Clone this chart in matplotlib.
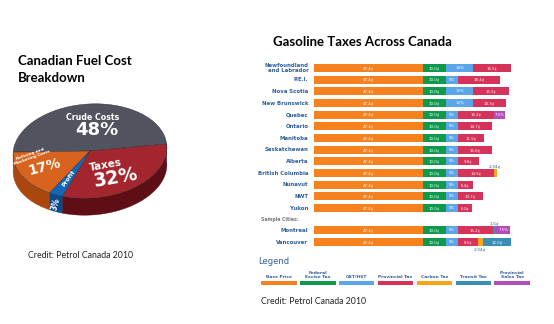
import numpy as np
import matplotlib
matplotlib.use("Agg")
import matplotlib.pyplot as plt
from matplotlib.patches import Polygon, Rectangle

# ---------------- data ----------------
pie_labels = ["Crude Costs", "Refining and\nMarketing Costs", "Profit", "Taxes"]
pie_values = [48, 17, 3, 32]

regions = ["Newfoundland\nand Labrador", "P.E.I.", "Nova Scotia", "New Brunswick",
           "Quebec", "Ontario", "Manitoba", "Saskatchewan", "Alberta",
           "British Columbia", "Nunavut", "NWT", "Yukon", "Montreal", "Vancouver"]
base_price = [47.4] * 15
federal_tax = [10.0] * 15
gst_hst = [11.7, 5.2, 11.7, 11.7, 5.2, 5.2, 5.2, 5.2, 5.2, 5.2, 5.2, 5.2, 5.2, 5.2, 5.2]
gst_labels = ["13%", "5%", "13%", "13%", "5%", "5%", "5%", "5%", "5%", "5%", "5%", "5%", "5%", "5%", "5%"]
provincial_tax = [16.5, 18.4, 15.5, 14.3, 15.7, 14.7, 11.5, 15.0, 9.0, 15.5, 6.4, 10.7, 6.2, 15.2, 8.5]
prov_labels = ["16.5¢", "18.4¢", "15.5¢", "14.3¢", "16.2¢", "14.7¢", "11.5¢", "15.0¢", "9.0¢",
               "14.5¢", "6.4¢", "10.7¢", "6.2¢", "15.2¢", "8.5¢"]
carbon_tax = [0, 0, 0, 0, 0, 0, 0, 0, 0, 1.4, 0, 0, 0, 0, 2.34]
transit_tax = [0, 0, 0, 0, 0, 0, 0, 0, 0, 0, 0, 0, 0, 1.5, 12.0]
prov_sales_tax = [0, 0, 0, 0, 4.8, 0, 0, 0, 0, 0, 0, 0, 0, 6.1, 0]
legend_labels = ["Base Price", "Federal\nExcise Tax", "GST/HST", "Provincial Tax",
                 "Carbon Tax", "Transit Tax", "Provincial\nSales Tax"]

seg_colors = ["#F5821F", "#0E9A4C", "#5BA6E8", "#D6335A", "#F9A51A", "#3A8FB7", "#B54DB8"]

W, H = 554, 324
fig = plt.figure(figsize=(W / 100, H / 100), dpi=100)
fig.patch.set_facecolor("white")

def fx(x):
    return x / W

def fy(y):
    return 1 - y / H

TITLE_FONT = "Lato"
LABEL_BLUE = "#2E5E9E"

# ---------------- left: 3D pie ----------------
pax = fig.add_axes([0, 0, 1, 1])
pax.set_xlim(0, W)
pax.set_ylim(H, 0)
pax.axis("off")

cx, cy, rx, ry, thick, rot = 90, 151, 77, 47, 17, np.deg2rad(4)
top_cols = ["#51545F", "#D8631E", "#1466B8", "#A3262F"]
side_cols = ["#34363F", "#A9470F", "#0D4A8C", "#5E0E14"]

def ept(t, dy=0.0, r=1.0):
    x = r * rx * np.cos(t)
    y = -r * ry * np.sin(t)
    xr = x * np.cos(rot) + y * np.sin(rot)
    yr = -x * np.sin(rot) + y * np.cos(rot)
    return cx + xr, cy + yr + dy

start = np.deg2rad(2)
fracs = np.array(pie_values, float) / sum(pie_values)
angles = [start]
for f in fracs:
    angles.append(angles[-1] + f * 2 * np.pi)

# sides
for i in range(len(pie_values)):
    a0, a1 = angles[i], angles[i + 1]
    ts = np.linspace(a0, a1, 200)
    ts = ts[(np.sin(ts) <= 0.05)]
    if len(ts) < 2:
        continue
    xs, ys = ept(ts)
    xb, yb = ept(ts[::-1], thick)
    poly = np.column_stack([np.concatenate([xs, xb]), np.concatenate([ys, yb])])
    pax.add_patch(Polygon(poly, closed=True, facecolor=side_cols[i], edgecolor=side_cols[i], lw=0.3))
# tops
for i in range(len(pie_values)):
    ts = np.linspace(angles[i], angles[i + 1], 200)
    xs, ys = ept(ts)
    poly = np.column_stack([np.concatenate([[cx], xs]), np.concatenate([[cy], ys])])
    pax.add_patch(Polygon(poly, closed=True, facecolor=top_cols[i], edgecolor="#2a2a2a", lw=0.3))

wfont = dict(color="white", fontweight="bold", family="DejaVu Sans", ha="center", va="center")
pax.text(93, 118, "Crude Costs", fontsize=5.7, **wfont)
pax.text(97, 130, f"{pie_values[0]}%", fontsize=13, **wfont)
pax.text(106, 165, "Taxes", fontsize=7.5, rotation=10, **wfont)
pax.text(116, 178, f"{pie_values[3]}%", fontsize=13.5, rotation=10, **wfont)
pax.text(31, 156, pie_labels[1], fontsize=3.0, rotation=20, linespacing=1.0, **wfont)
pax.text(45, 167, f"{pie_values[1]}%", fontsize=10, rotation=15, **wfont)
tp = (angles[2] + angles[3]) / 2
px_, py_ = ept(tp, 0, 0.62)
pax.text(px_, py_, "Profit", fontsize=4.3, rotation=55, **wfont)
sx_, sy_ = ept(tp, thick / 2 + 1)
pax.text(sx_, sy_, f"{pie_values[2]}%", fontsize=5.5, rotation=75, **wfont)

pax.text(18, 55, "Canadian Fuel Cost\nBreakdown", fontsize=9.5, fontweight="bold", family=TITLE_FONT,
         ha="left", va="top", color="black", linespacing=1.45)
pax.text(28, 256, "Credit: Petrol Canada 2010", fontsize=6.3, family=TITLE_FONT, ha="left", va="center",
         color="#222222")

# ---------------- right: stacked bars ----------------
pxc = 2.3          # pixels per cent
row_px = 11.68
y_top_px, y_bot_px = 55, 252
bar_left_px = 314
ax = fig.add_axes([fx(bar_left_px), fy(y_bot_px), (W - bar_left_px) / W, (y_bot_px - y_top_px) / H])
ax.set_xlim(0, (W - bar_left_px) / pxc)
ax.set_ylim(14.9 + (y_bot_px - 242) / row_px, -(68 - y_top_px) / row_px)
ax.axis("off")

ypos = list(np.arange(13, dtype=float)) + [13.9, 14.9]
series = [base_price, federal_tax, gst_hst, provincial_tax, carbon_tax, transit_tax, prov_sales_tax]
left = np.zeros(len(regions))
bh = 0.68
seg_text = dict(color="white", fontsize=2.8, ha="center", va="center", family="DejaVu Sans")
for k, vals in enumerate(series):
    vals = np.array(vals, float)
    ax.barh(ypos, vals, left=left, height=bh, color=seg_colors[k], edgecolor="none")
    for i, v in enumerate(vals):
        if v <= 0:
            continue
        xc = left[i] + v / 2
        if k in (0, 1):
            ax.text(xc, ypos[i], f"{v:.1f}¢", **seg_text)
        elif k == 2:
            ax.text(xc, ypos[i], gst_labels[i], **seg_text)
        elif k == 3:
            ax.text(xc, ypos[i], prov_labels[i], **seg_text)
        elif k == 6:
            ax.text(xc, ypos[i], "7.5%", **seg_text)
        elif k == 5 and v > 5:
            ax.text(xc, ypos[i], f"{v:.1f}¢", **seg_text)
    left += vals

small_txt = dict(color=LABEL_BLUE, fontsize=3.2, ha="center", family="DejaVu Sans")
i_bc = regions.index("British Columbia")
xbc = sum(s[i_bc] for s in series[:4]) + carbon_tax[i_bc] / 2
ax.text(xbc, ypos[i_bc] - 0.45, "2.34¢", va="bottom", **small_txt)
i_mt = regions.index("Montreal")
xmt = sum(s[i_mt] for s in series[:5]) + transit_tax[i_mt] / 2
ax.text(xmt, ypos[i_mt] - 0.45, f"{transit_tax[i_mt]:.1f}¢", va="bottom", **small_txt)
i_va = regions.index("Vancouver")
xva = sum(s[i_va] for s in series[:4]) + carbon_tax[i_va] / 2
ax.text(xva, ypos[i_va] + 0.45, f"{carbon_tax[i_va]:.2f}¢", va="top", **small_txt)

for i, name in enumerate(regions):
    ax.annotate(name, xy=(0, ypos[i]), xytext=(-4, 0), textcoords="offset points",
                ha="right", va="center", fontsize=3.9, fontweight="bold", color=LABEL_BLUE,
                family="DejaVu Sans", linespacing=1.1, annotation_clip=False)
ax.annotate("Sample Cities:", xy=(0, 12.95), xytext=(-38, 0), textcoords="offset points",
            ha="left", va="center", fontsize=3.3, fontweight="bold", color="#777777",
            family="DejaVu Sans", annotation_clip=False)

# ---------------- legend & titles ----------------
pax.text(273, 42, "Gasoline Taxes Across Canada", fontsize=9.5, fontweight="bold", family=TITLE_FONT,
         ha="left", va="center", color="black")
pax.text(258, 262, "Legend", fontsize=6, family="DejaVu Sans", ha="left", va="center", color=LABEL_BLUE)
leg_x0, leg_w, leg_gap = 261, 35.6, 3.3
for k, lab in enumerate(legend_labels):
    x0 = leg_x0 + k * (leg_w + leg_gap)
    pax.add_patch(Rectangle((x0, 281), leg_w, 4, facecolor=seg_colors[k], edgecolor="none"))
    pax.text(x0 + leg_w / 2, 279, lab, fontsize=3.2, fontweight="bold", family="DejaVu Sans",
             ha="center", va="bottom", color=LABEL_BLUE, linespacing=1.1)
pax.text(261, 301, "Credit: Petrol Canada 2010", fontsize=6.3, family=TITLE_FONT, ha="left", va="center",
         color="#222222")

fig.savefig("out.png", dpi=100, facecolor="white")
